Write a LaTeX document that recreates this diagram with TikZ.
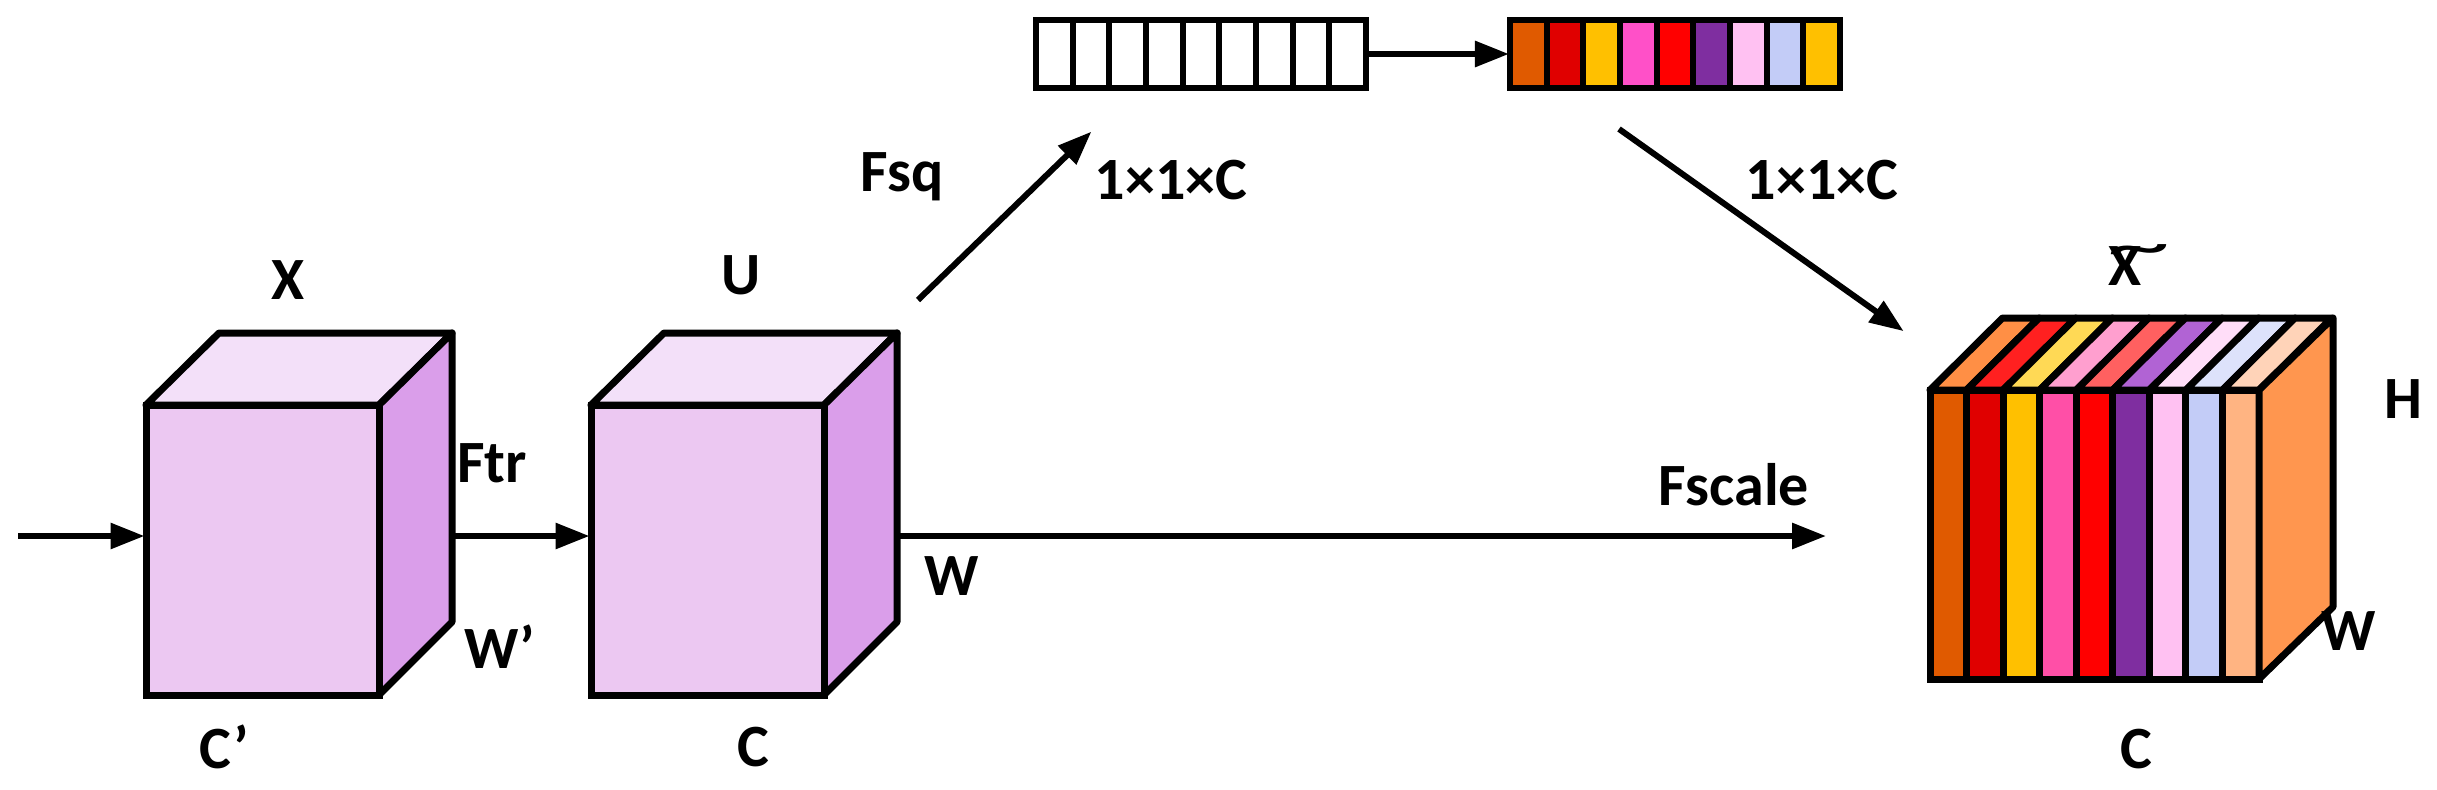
\documentclass[tikz,border=0pt]{standalone}
\usepackage{fontspec}
\setmainfont{Carlito}
\usetikzlibrary{arrows.meta}
\definecolor{fvio}{HTML}{ECC8F2}
\definecolor{tvio}{HTML}{F3E0F9}
\definecolor{svio}{HTML}{DA9EEA}
\definecolor{corange}{HTML}{E05A00}
\definecolor{cred}{HTML}{E00000}
\definecolor{cgold}{HTML}{FFC000}
\definecolor{cpink}{HTML}{FF4FA7}
\definecolor{cmag}{HTML}{FF50C8}
\definecolor{cpure}{HTML}{FF0000}
\definecolor{cpurp}{HTML}{7F2EA0}
\definecolor{clila}{HTML}{FFC1F2}
\definecolor{cblue}{HTML}{C3CCF7}
\definecolor{cpeach}{HTML}{FFB482}
\definecolor{sorange}{HTML}{FF964F}

\begin{document}
\begin{tikzpicture}[
  x=1pt, y=-1pt,
  lab/.style={inner sep=0pt, anchor=base, font=\fontsize{60}{66}\selectfont\bfseries},
  face/.style={draw, line width=7pt, line join=round},
  front/.style={draw, line width=7pt, rectangle, inner sep=0pt},
  cellbox/.style={draw, line width=6pt, rectangle, inner sep=0pt, minimum width=36.67pt, minimum height=68pt},
  arr/.style={-{Triangle[length=34pt,width=25pt]}, line width=6pt, shorten >=-2pt}
]
\useasboundingbox (0,0) rectangle (2437,790);

% purple cubes
\foreach \x/\n in {146/X, 591/U} {
  \draw[face, fill=tvio] (\x,405) -- ({\x+73},333) -- ({\x+306},333) -- ({\x+233},405) -- cycle;
  \draw[face, fill=svio] ({\x+233},405) -- ({\x+306},333) -- ({\x+306},622) -- ({\x+233},695) -- cycle;
  \node[front, fill=fvio, minimum width=233pt, minimum height=290pt] (cube\n) at ({\x+116.5},550) {};
  \coordinate (out\n) at ({\x+306},536);
  \coordinate (in\n) at (cube\n.west |- 0,536);
}

% coloured cube
\foreach \i/\c/\t in {0/corange/FF8F45, 1/cred/FF2020, 2/cgold/FFD955, 3/cpink/FF9FCF, 4/cpure/FF6060, 5/cpurp/B163D4, 6/clila/FFDDF8, 7/cblue/DDE2FB, 8/cpeach/FFD3B8} {
  \definecolor{ctop}{HTML}{\t}
  \draw[face, fill=ctop] ({1930+36.56*\i},390) -- ({2002.5+36.56*\i},318) -- ({2039.06+36.56*\i},318) -- ({1966.56+36.56*\i},390) -- cycle;
  \node[front, fill=\c, minimum width=36.56pt, minimum height=289pt] (slice\i) at ({1948.28+36.56*\i},534.5) {};
}
\draw[face, fill=sorange] (2259,390) -- (2333,318) -- (2333,607) -- (2259,679) -- cycle;

% vectors
\foreach \i in {0,...,8} {
  \node[cellbox, fill=white] (sq\i) at ({1054.3+36.67*\i},54) {};
}
\foreach \i/\c in {0/corange, 1/cred, 2/cgold, 3/cmag, 4/cpure, 5/cpurp, 6/clila, 7/cblue, 8/cgold} {
  \node[cellbox, fill=\c] (ex\i) at ({1528.3+36.67*\i},54) {};
}

\coordinate (start) at (18,536);
\coordinate (fsqA) at (918,300);
\coordinate (fsqB) at (1090,133);
\coordinate (exA) at (1619,129);
\coordinate (exB) at (1902,330);
\coordinate (scaleB) at (1824,536);

\draw[arr] (start) -- (inX);
\draw[arr] (outX) -- (inU);
\draw[arr] (outU) -- (scaleB);
\draw[arr] (fsqA) -- (fsqB);
\draw[arr] (sq8.east) -- (ex0.west);
\draw[arr] (exA) -- (exB);

\node[lab] (lx) at (288,299) {X};
\node[lab] (lu) at (741,294) {U};
\node[lab] (lftr) at (492,482) {Ftr};
\node[lab] (lwp) at (500,668) {W’};
\node[lab] (lcp) at (224,768) {C’};
\node[lab] (lc) at (753,766) {C};
\node[lab] (lw) at (952,595) {W};
\node[lab] (lfsq) at (902,191) {Fsq};
\node[lab] (ldima) at (1171,199) {1×1×C};
\node[lab] (ldimb) at (1822,199) {1×1×C};
\node[lab] (lscale) at (1734,505) {Fscale};
\node[lab] (lxt) at (2125,285) {X};
\node[inner sep=0pt, anchor=base, xscale=1.15, yscale=0.55, font=\fontsize{110}{110}\selectfont] (ltilde) at (2139,266) {\textasciitilde};
\node[lab] (lh) at (2403,418) {H};
\node[lab] (lw3) at (2349,650) {W};
\node[lab] (lc3) at (2136,768) {C};
\end{tikzpicture}
\end{document}
